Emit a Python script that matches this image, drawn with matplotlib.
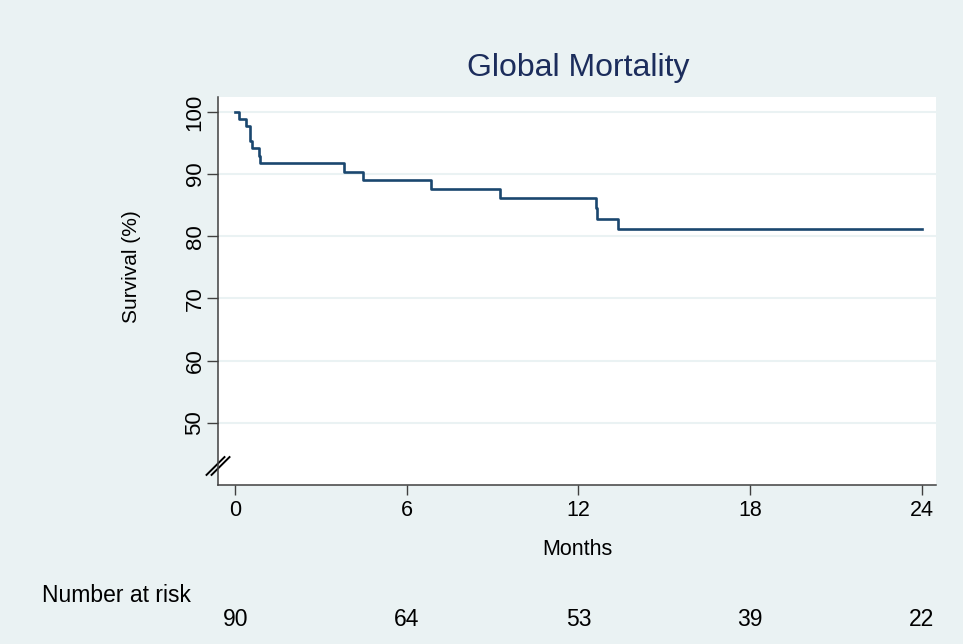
import numpy as np
import matplotlib
matplotlib.use('Agg')
import matplotlib.pyplot as plt

plt.rcParams['font.family'] = ['Liberation Sans', 'DejaVu Sans']

# Kaplan-Meier steps (months, survival %)
step_months = [0.0, 0.15, 0.37, 0.51, 0.60, 0.84, 0.87, 3.79, 4.47, 6.86, 9.24, 12.60, 12.66, 13.37]
step_surv = [100.0, 98.9, 97.8, 95.4, 94.2, 92.9, 91.8, 90.4, 89.1, 87.6, 86.1, 84.5, 82.8, 81.1]
end_month = 24.0

risk_months = [0, 6, 12, 18, 24]
risk_counts = [90, 64, 53, 39, 22]

y_ticks = [50, 60, 70, 80, 90, 100]
x_ticks = [0, 6, 12, 18, 24]

bg = '#eaf2f3'
navy = '#1a476f'
title_c = '#1c2d5c'
grid_c = '#eaf2f3'
fs = 15

fig = plt.figure(figsize=(9.63, 6.44), dpi=100, facecolor=bg)
ax = fig.add_axes([0.2264, 0.2469, 0.972 - 0.2264, 0.8494 - 0.2469])
ax.set_facecolor('white')

xs = step_months + [end_month]
ys = step_surv + [step_surv[-1]]
ax.step(xs, ys, where='post', color=navy, lw=1.9)

ax.set_xlim(-0.6, 24.5)
ax.set_ylim(40, 102.4)
ax.set_yticks(y_ticks)
ax.set_xticks(x_ticks)
ax.set_yticklabels([str(v) for v in y_ticks], rotation=90, va='center', fontsize=fs + 1)
ax.set_xticklabels([str(v) for v in x_ticks], fontsize=fs + 0.5)
ax.tick_params(axis='y', direction='out', length=8, width=1, color='#404040', pad=1)
ax.tick_params(axis='x', direction='out', length=7, width=1, color='#404040', pad=4)
ax.yaxis.grid(True, color=grid_c, lw=1.5)
ax.set_axisbelow(True)
for s in ['top', 'right']:
    ax.spines[s].set_visible(False)
for s in ['left', 'bottom']:
    ax.spines[s].set_color('#404040')
    ax.spines[s].set_linewidth(1.1)

ax.set_ylabel('Survival (%)', fontsize=fs, va='center')
ax.yaxis.set_label_coords(-0.12, 0.564)
ax.set_xlabel('Months', fontsize=fs + 0.5, va='center')
ax.xaxis.set_label_coords(0.5, -0.165)
fig.text(0.6005, 1 - 68 / 644, 'Global Mortality', fontsize=23, color=title_c,
         ha='center', va='center')

# axis break marks
for dx in (-0.0035, 0.0035):
    ax.plot([-0.0125 + dx, 0.0125 + dx], [0.026, 0.072],
            transform=ax.transAxes, color='black', lw=1.4, clip_on=False)

# number at risk table
fig.text(42 / 963, 1 - 596 / 644, 'Number at risk', fontsize=16.5, va='center', ha='left')
for m, c in zip(risk_months, risk_counts):
    xf = fig.transFigure.inverted().transform(ax.transData.transform((m, 0)))[0]
    fig.text(xf, 1 - 619 / 644, str(c), fontsize=16.5, va='center', ha='center')

fig.savefig('out.png', dpi=100, facecolor=bg)
